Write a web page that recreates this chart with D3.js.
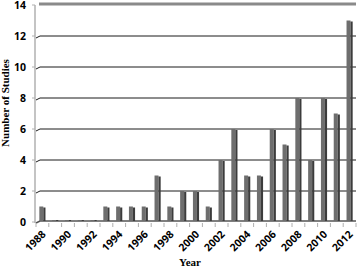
<!DOCTYPE html>
<html>
<head>
<meta charset="utf-8">
<script src="https://cdn.jsdelivr.net/npm/d3@7"></script>
<style>
  body { margin: 0; background: #fff; }
  text { font-weight: bold; fill: #000; }
  .tick-label { font-family: "Open Sans", "Liberation Sans", sans-serif; }
  .title { font-family: "Liberation Serif", "DejaVu Serif", serif; }
</style>
</head>
<body>
<div id="chart"></div>
<script>
var years = ["1988","1989","1990","1991","1992","1993","1994","1995","1996","1997","1998","1999","2000",
             "2001","2002","2003","2004","2005","2006","2007","2008","2009","2010","2011","2012"];
var studies = [1,0,0,0,0,1,1,1,1,3,1,2,2,1,4,6,3,3,6,5,8,4,8,7,13];
var yTicks = [0,2,4,6,8,10,12,14];
var xLabels = ["1988","1990","1992","1994","1996","1998","2000","2002","2004","2006","2008","2010","2012"];

var width = 358, height = 269;
var plotLeft = 36, plotRight = 356, plotTop = 5, plotBottom = 222;

var svg = d3.select("#chart").append("svg")
  .attr("width", width)
  .attr("height", height);

var xScale = d3.scaleBand()
  .domain(years)
  .range([plotLeft, plotRight])
  .paddingInner(0.52)
  .paddingOuter(0.26);

var yScale = d3.scaleLinear()
  .domain([0, 14])
  .range([plotBottom, plotTop]);

// back wall top edge
svg.append("line")
  .attr("x1", plotLeft + 3).attr("x2", plotRight)
  .attr("y1", yScale(14) - 1).attr("y2", yScale(14) - 1)
  .attr("stroke", "#8a8a8a").attr("stroke-width", 3);

// gridlines with little perspective kink at the left
svg.append("g").selectAll("path")
  .data(yTicks.filter(function(d){ return d > 0 && d < 14; }))
  .enter()
  .append("path")
    .attr("d", function(d){
      var y = yScale(d);
      return "M" + plotLeft + "," + (y + 2) + " L" + (plotLeft + 4) + "," + y + " L" + plotRight + "," + y;
    })
    .attr("fill", "none")
    .attr("stroke", "#1a1a1a")
    .attr("stroke-width", 1);

// left axis
svg.append("line")
  .attr("x1", plotLeft - 1).attr("x2", plotLeft - 1)
  .attr("y1", yScale(14)).attr("y2", plotBottom + 1)
  .attr("stroke", "#b0b0b0").attr("stroke-width", 1.5);

// y tick marks
svg.append("g").selectAll("line")
  .data(yTicks)
  .enter()
  .append("line")
    .attr("x1", plotLeft - 4).attr("x2", plotLeft - 1)
    .attr("y1", function(d){ return yScale(d); })
    .attr("y2", function(d){ return yScale(d); })
    .attr("stroke", "#b0b0b0");

// floor / baseline
svg.append("path")
  .attr("d", "M" + plotLeft + "," + (plotBottom + 1) + " L" + (plotLeft + 4) + "," + (plotBottom - 1) + " L" + plotRight + "," + (plotBottom - 1))
  .attr("fill", "none")
  .attr("stroke", "#555")
  .attr("stroke-width", 1.5);

// bottom tick marks between categories
var step = xScale.step();
svg.append("g").selectAll("line")
  .data(years.concat(["end"]))
  .enter()
  .append("line")
    .attr("x1", function(d, i){ return plotLeft + i * step; })
    .attr("x2", function(d, i){ return plotLeft + i * step; })
    .attr("y1", plotBottom + 1).attr("y2", plotBottom + 5)
    .attr("stroke", "#b0b0b0");

// bars: front face + darker side face
var bw = xScale.bandwidth();
var bars = svg.append("g").selectAll("g")
  .data(years.map(function(y, i){ return {year: y, value: studies[i]}; }))
  .enter()
  .append("g");

bars.append("rect")
  .attr("x", function(d){ return xScale(d.year); })
  .attr("y", function(d){ return d.value > 0 ? yScale(d.value) : plotBottom - 2; })
  .attr("width", bw * 0.65)
  .attr("height", function(d){ return d.value > 0 ? plotBottom - 1 - yScale(d.value) : 1; })
  .attr("fill", "#6e6e6e");

bars.append("rect")
  .attr("x", function(d){ return xScale(d.year) + bw * 0.65; })
  .attr("y", function(d){ return d.value > 0 ? yScale(d.value) + 1 : plotBottom - 2; })
  .attr("width", bw * 0.35)
  .attr("height", function(d){ return d.value > 0 ? plotBottom - 2 - yScale(d.value) : 1; })
  .attr("fill", "#3c3c3c");

// y tick labels
svg.append("g").selectAll("text")
  .data(yTicks)
  .enter()
  .append("text")
    .attr("class", "tick-label")
    .attr("x", plotLeft - 10)
    .attr("y", function(d){ return yScale(d); })
    .attr("dy", "0.36em")
    .style("text-anchor", "end")
    .style("font-size", "10.5px")
    .text(function(d){ return d; });

// x tick labels
svg.append("g").selectAll("text")
  .data(xLabels)
  .enter()
  .append("text")
    .attr("class", "tick-label")
    .attr("transform", function(d){
      return "translate(" + (xScale(d) + bw / 2 + 4) + "," + (plotBottom + 13) + ") rotate(-45)";
    })
    .style("text-anchor", "end")
    .style("font-size", "10.5px")
    .text(function(d){ return d; });

// axis titles
svg.append("text")
  .attr("class", "title")
  .attr("transform", "translate(9,103) rotate(-90)")
  .style("text-anchor", "middle")
  .style("font-size", "11px")
  .text("Number of Studies");

svg.append("text")
  .attr("class", "title")
  .attr("x", 190)
  .attr("y", 266)
  .style("text-anchor", "middle")
  .style("font-size", "11px")
  .text("Year");
</script>
</body>
</html>
